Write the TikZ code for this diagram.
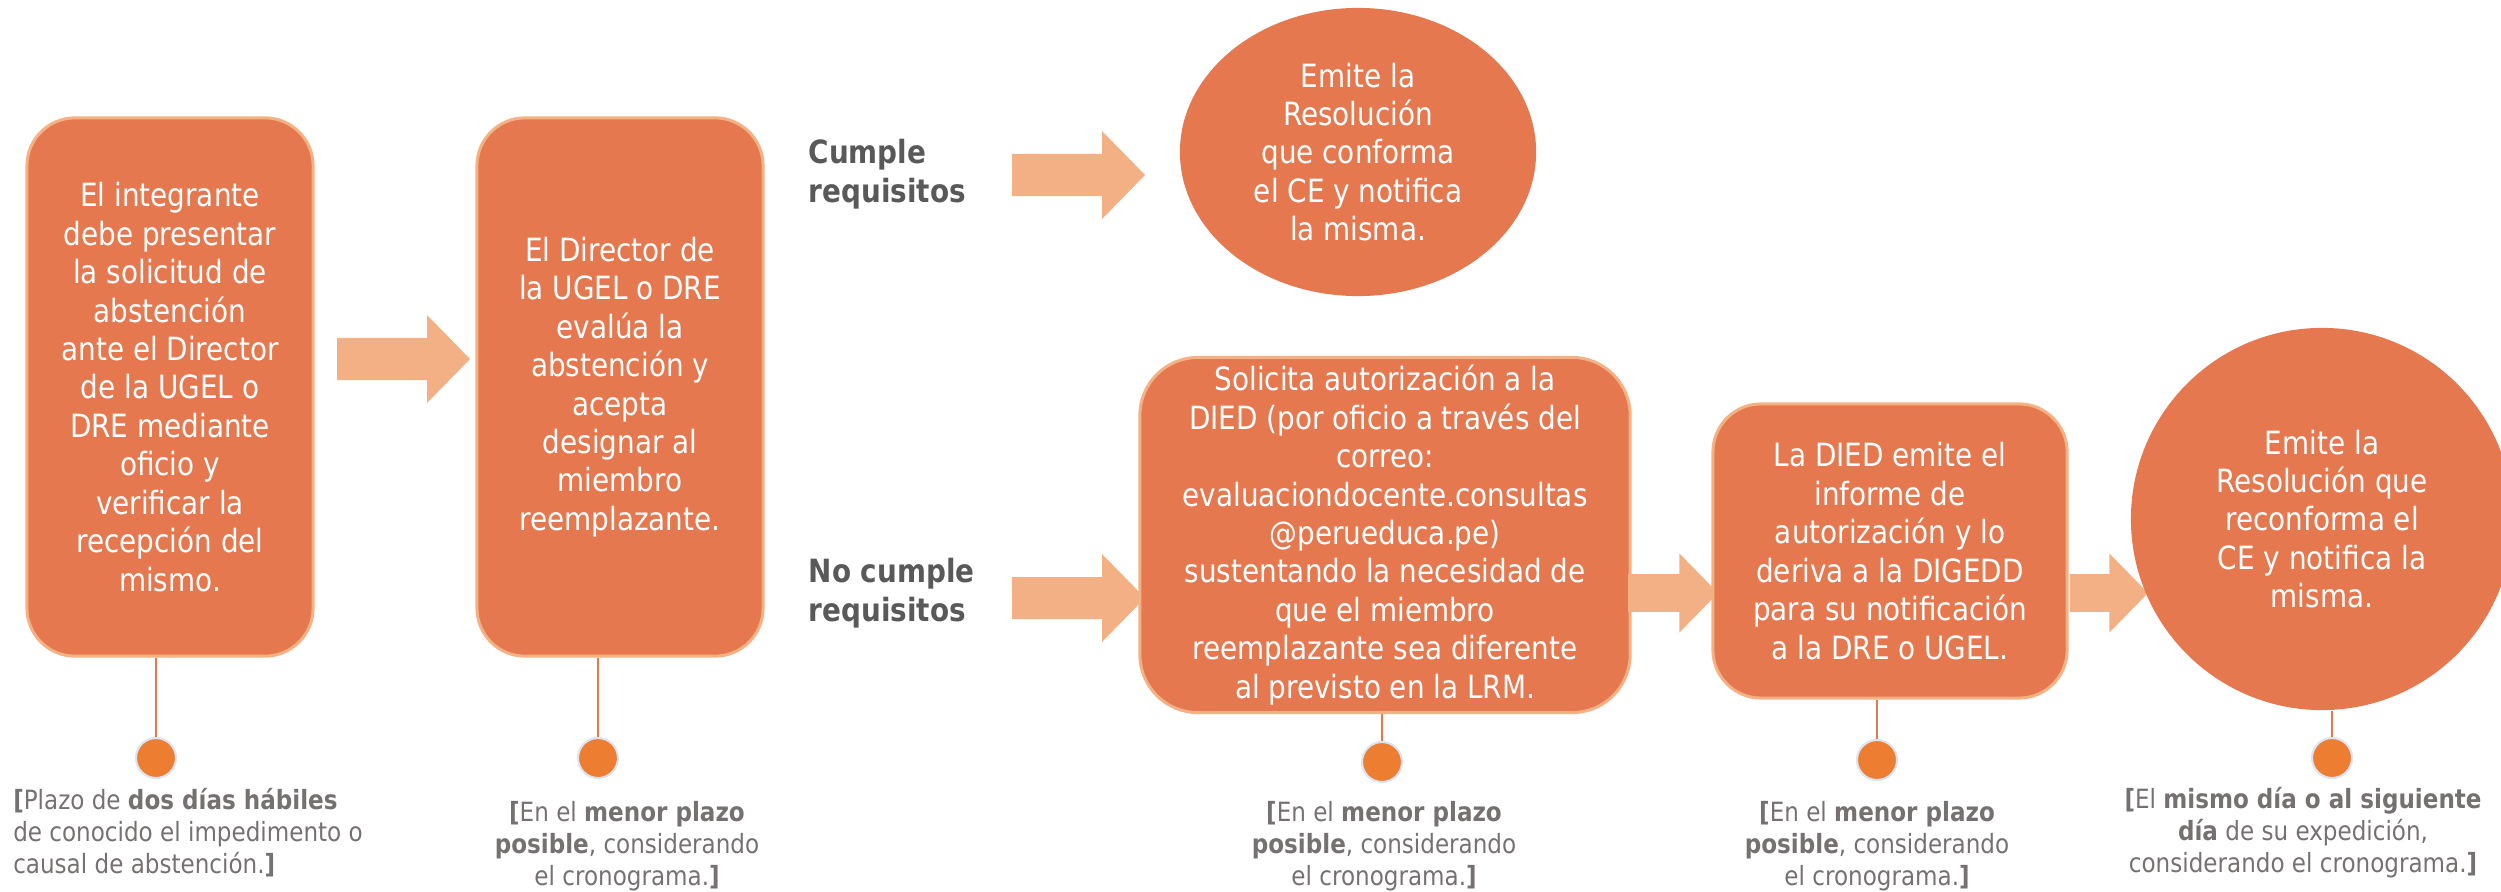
\documentclass[tikz,border=0pt]{standalone}
\usepackage{fontspec}
\setmainfont[FakeStretch=0.87]{DejaVu Sans}
\usetikzlibrary{shapes.geometric}
\definecolor{boxfill}{HTML}{E5784F}
\definecolor{boxedge}{HTML}{F4B183}
\definecolor{arrowfill}{HTML}{F3B084}
\definecolor{dotfill}{HTML}{ED7D31}
\definecolor{dotedge}{HTML}{DDE3F0}
\definecolor{capgray}{HTML}{767171}
\definecolor{labgray}{HTML}{595959}
\def\fatarrow[#1](#2:#3:#4:#5){\fill[#1] (#2,#4-21*#5) -- (#3-43*#5,#4-21*#5) -- (#3-43*#5,#4-44*#5) -- (#3,#4) -- (#3-43*#5,#4+44*#5) -- (#3-43*#5,#4+21*#5) -- (#2,#4+21*#5) -- cycle;}
\tikzset{
	stepbox/.style={draw=boxedge, line width=0.85pt, fill=boxfill, rounded corners=0.48cm, text=white, align=center, inner sep=0pt, font=\fontsize{9.1}{10.93}\selectfont},
	endoval/.style={fill=boxfill, text=white, align=center, inner sep=0pt, font=\fontsize{9.1}{10.93}\selectfont},
	plazodot/.style={circle, fill=dotfill, draw=dotedge, line width=0.6pt, minimum size=0.4cm, inner sep=0pt},
	plazotext/.style={text=capgray, align=center, inner sep=0pt, font=\fontsize{7.54}{9.1}\selectfont},
	ruta/.style={text=labgray, align=left, anchor=west, inner sep=0pt, font=\bfseries\fontsize{9.1}{10.93}\selectfont},
	tallo/.style={draw=boxfill, line width=0.5pt}
}

\begin{document}
\begin{tikzpicture}[x=0.01cm, y=-0.01cm]
		%%%%% START %%%%%
		\useasboundingbox (0, 0) rectangle (2501, 891);
		
		\node[stepbox, minimum width=2.86cm, minimum height=5.38cm] (b1) at (170, 387) {El integrante\\debe presentar\\la solicitud de\\abstención\\ante el Director\\de la UGEL o\\DRE mediante\\oficio y\\verificar la\\recepción del\\mismo.};
		\node[stepbox, minimum width=2.86cm, minimum height=5.38cm] (b2) at (620, 387) {El Director de\\la UGEL o DRE\\evalúa la\\abstención y\\acepta\\designar al\\miembro\\reemplazante.};
		
		\fatarrow[arrowfill](337:470:359:1)
		
		\node[ruta] (si) at (808, 174) {Cumple\\requisitos};
		\node[ruta] (no) at (808, 593) {No cumple\\requisitos};
		
		\fatarrow[arrowfill](1012:1145:175:1)
		\fatarrow[arrowfill](1012:1145:598:1)
		
		\node[endoval, ellipse, minimum width=3.56cm, minimum height=2.88cm] (e1) at (1358, 152) {Emite la\\Resolución\\que conforma\\el CE y notifica\\la misma.};
		
		\node[stepbox, rounded corners=0.58cm, minimum width=4.9cm, minimum height=3.55cm] (b3) at (1385, 535) {Solicita autorización a la\\DIED (por oficio a través del\\correo:\\evaluaciondocente.consultas\\@perueduca.pe)\\sustentando la necesidad de\\que el miembro\\reemplazante sea diferente\\al previsto en la LRM.};
		
		\fatarrow[arrowfill](1628:1718:593:0.9)
		
		\node[stepbox, minimum width=3.54cm, minimum height=2.94cm] (b4) at (1890, 551) {La DIED emite el\\informe de\\autorización y lo\\deriva a la DIGEDD\\para su notificación\\a la DRE o UGEL.};
		
		\fatarrow[arrowfill](2070:2148:593:0.9)
		
		\node[endoval, circle, minimum size=3.82cm] (c5) at (2322, 519) {Emite la\\Resolución que\\reconforma el\\CE y notifica la\\misma.};
		
		% plazos
		\node[plazodot] (d1) at (156, 758) {};
		\node[plazodot] (d2) at (598, 758) {};
		\node[plazodot] (d3) at (1382, 762) {};
		\node[plazodot] (d4) at (1877, 760) {};
		\node[plazodot] (d5) at (2332, 758) {};
		
		\draw[tallo] (d1.north |- b1.south) -- (d1.north);
		\draw[tallo] (d2.north |- b2.south) -- (d2.north);
		\draw[tallo] (d3.north |- b3.south) -- (d3.north);
		\draw[tallo] (d4.north |- b4.south) -- (d4.north);
		\draw[tallo] (d5.north |- c5.south) -- (d5.north);
		
		\node[plazotext, align=left] (p1) at (188, 833) {\textbf{[}Plazo de \textbf{dos días hábiles}\\de conocido el impedimento o\\causal de abstención.\textbf{]}};
		\node[plazotext] (p2) at (627, 846) {\textbf{[}En el \textbf{menor plazo}\\\textbf{posible}, considerando\\el cronograma.\textbf{]}};
		\node[plazotext] (p3) at (1384, 846) {\textbf{[}En el \textbf{menor plazo}\\\textbf{posible}, considerando\\el cronograma.\textbf{]}};
		\node[plazotext] (p4) at (1877, 846) {\textbf{[}En el \textbf{menor plazo}\\\textbf{posible}, considerando\\el cronograma.\textbf{]}};
		\node[plazotext] (p5) at (2303, 833) {\textbf{[}El \textbf{mismo día o al siguiente}\\\textbf{día} de su expedición,\\considerando el cronograma.\textbf{]}};
		
		%%%%% END %%%%%
	\end{tikzpicture}
\end{document}
